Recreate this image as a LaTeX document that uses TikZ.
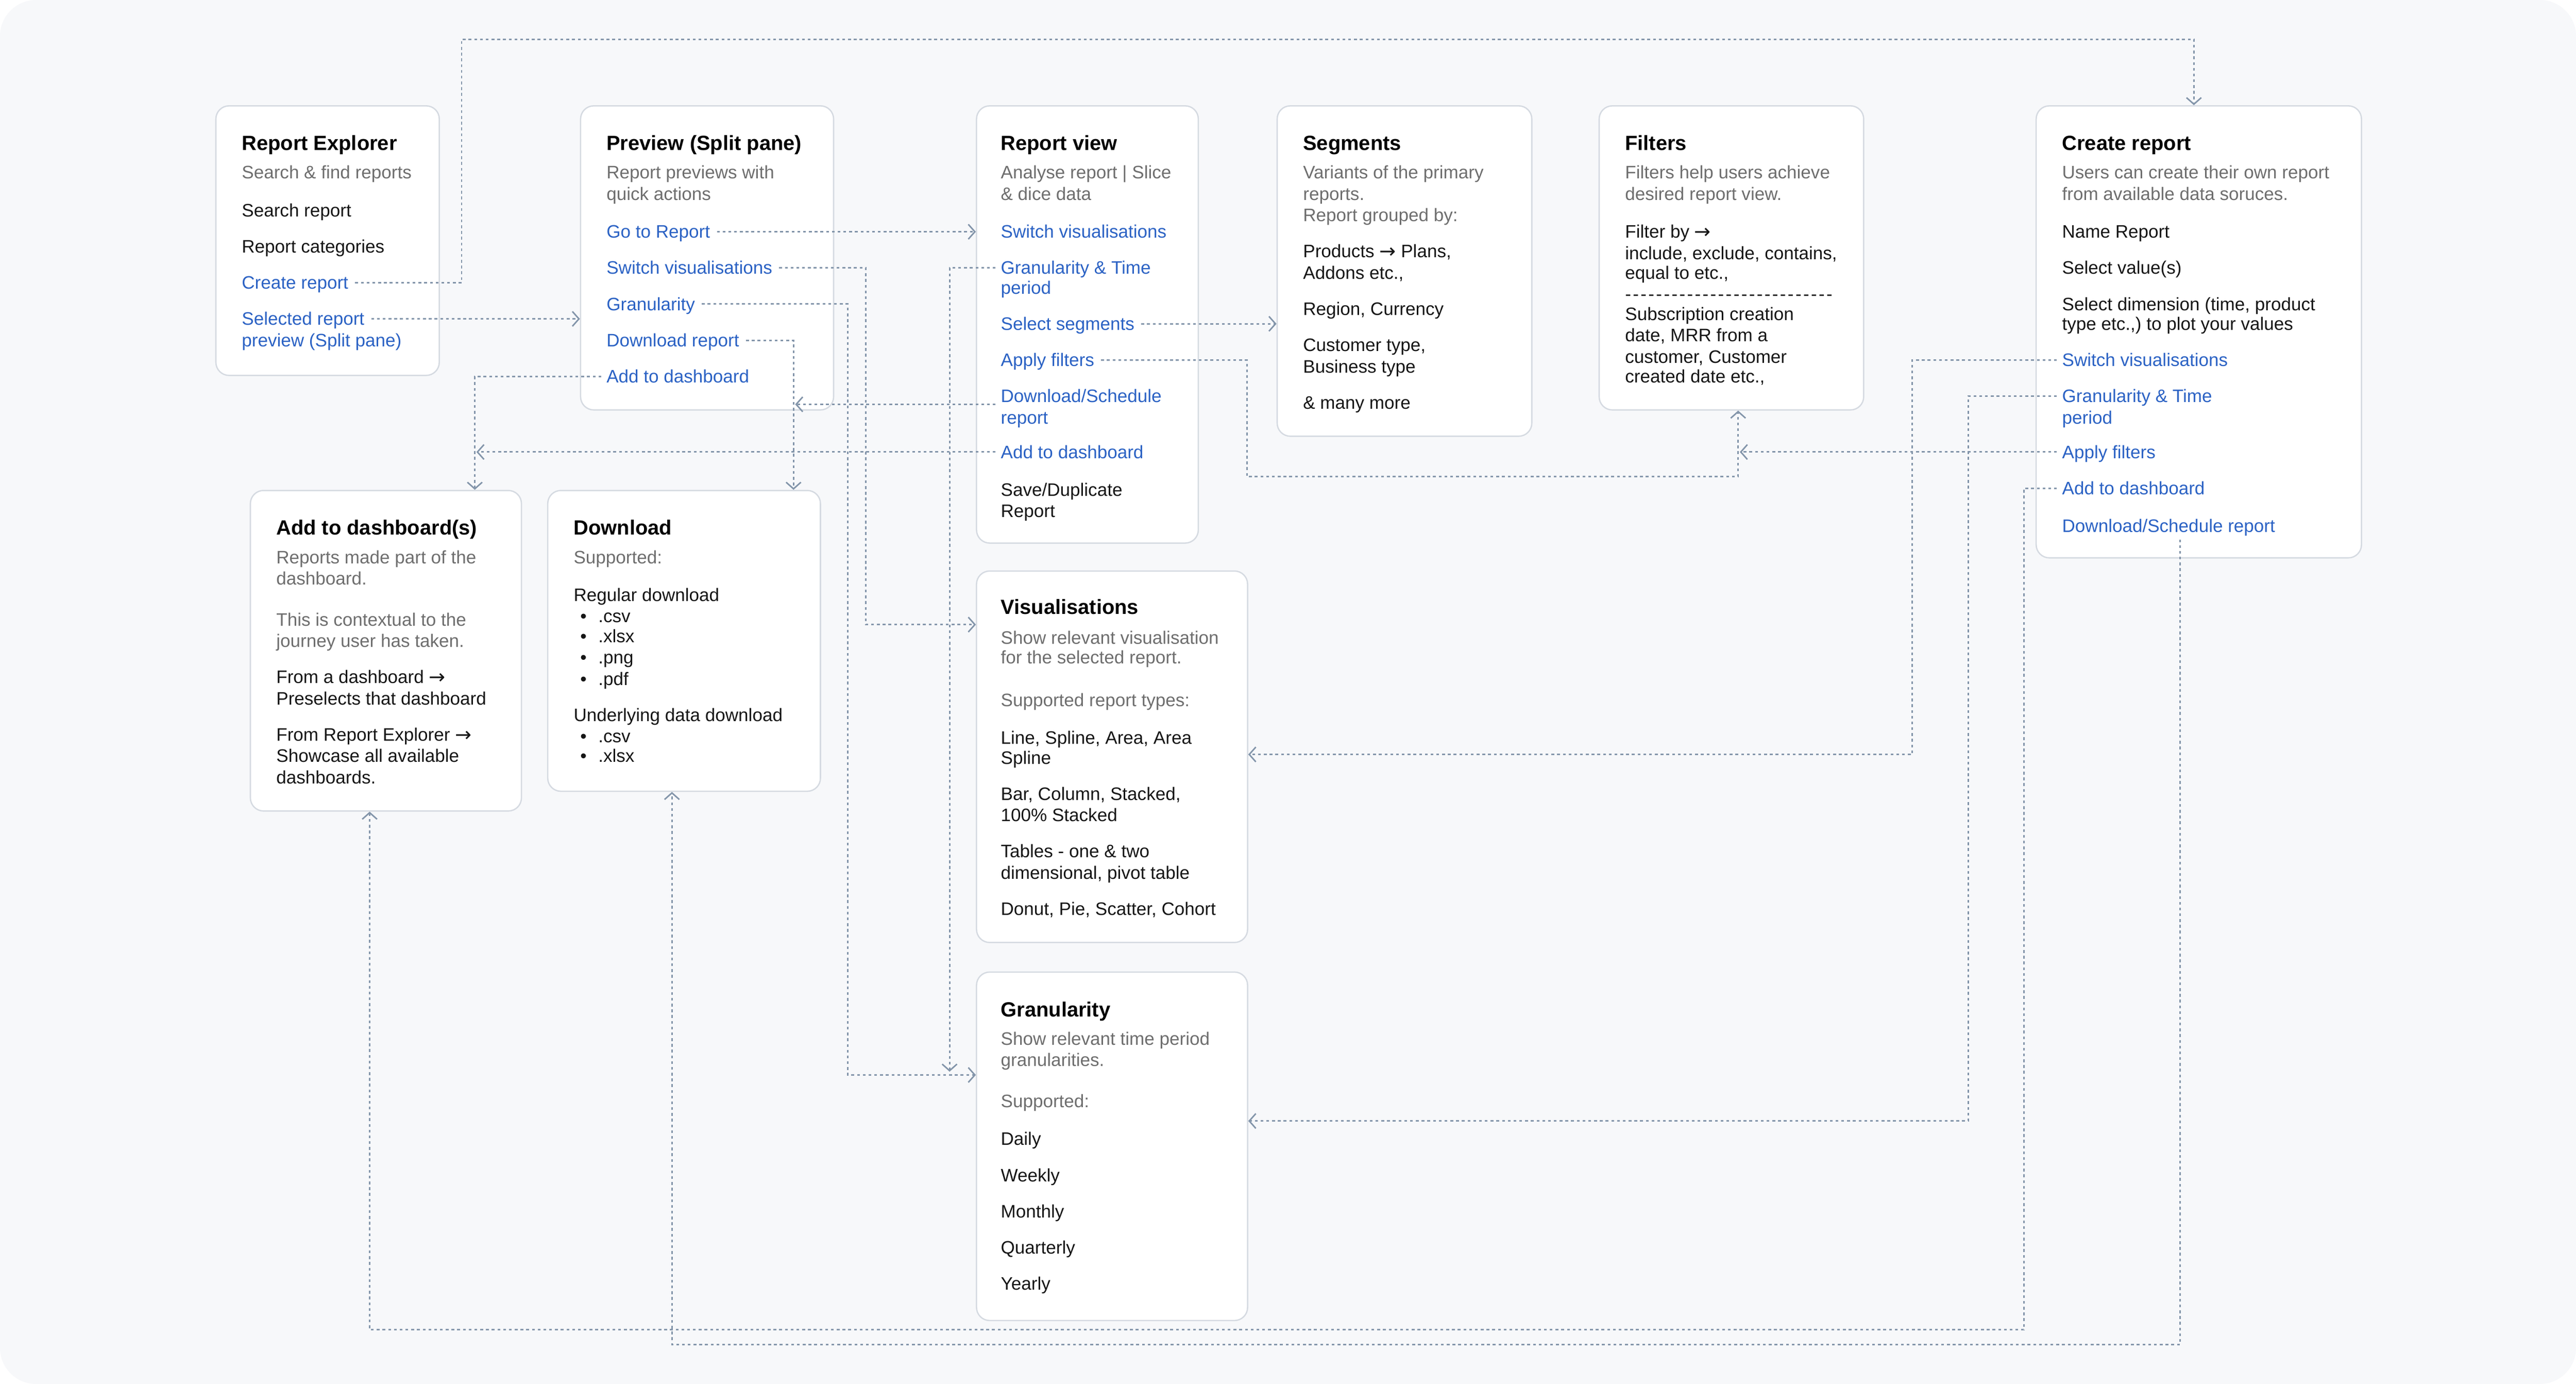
\documentclass[tikz,border=0pt]{standalone}
\usepackage{fontspec}
\setmainfont{Liberation Sans}
\newfontfamily\arrowfont{DejaVu Sans}
\newcommand\toarrow{{\arrowfont\fontsize{12}{12}\selectfont\raisebox{-0.3pt}{→}}}
\usetikzlibrary{arrows.meta}

\definecolor{bgc}{HTML}{F7F8FA}
\definecolor{cardline}{HTML}{D5DAE1}
\definecolor{linkc}{HTML}{8395AA}
\definecolor{actblue}{HTML}{2B62C4}
\definecolor{subgray}{HTML}{6E6E6E}
\definecolor{ink}{HTML}{161616}

\begin{document}
\begin{tikzpicture}[x=1pt,y=-1pt,
    card/.style={draw=cardline, fill=white, rounded corners=8pt, line width=0.8pt, anchor=north west, inner sep=0pt},
    ttl/.style={font=\fontsize{12.5}{15}\selectfont\bfseries, anchor=west, inner sep=0pt, text height=9.5pt, text depth=0.5pt},
    sub/.style={font=\fontsize{11}{13}\selectfont, text=subgray, anchor=west, inner sep=0pt, text height=8.8pt, text depth=1.2pt},
    txt/.style={sub, text=ink},
    act/.style={sub, text=actblue},
    link/.style={draw=linkc, line width=0.9pt, dash pattern=on 1.7pt off 1.8pt, -{Straight Barb[length=4pt,width=9pt]}}]
    \useasboundingbox (0,0) rectangle (1568,842);
    \fill[white] (0,0) rectangle (1568,842);
    \fill[bgc, rounded corners=22pt] (0,0) rectangle (1568,842);

    % cards
    \node[card, minimum width=136pt, minimum height=164pt] (explorer) at (131,64) {};
    \node[card, minimum width=154pt, minimum height=185pt] (preview) at (353,64) {};
    \node[card, minimum width=135pt, minimum height=266pt] (reportview) at (594,64) {};
    \node[card, minimum width=155pt, minimum height=201pt] (segments) at (777,64) {};
    \node[card, minimum width=161pt, minimum height=185pt] (filters) at (973,64) {};
    \node[card, minimum width=198pt, minimum height=275pt] (create) at (1239,64) {};
    \node[card, minimum width=165pt, minimum height=195pt] (dashbox) at (152,298) {};
    \node[card, minimum width=166pt, minimum height=183pt] (download) at (333,298) {};
    \node[card, minimum width=165pt, minimum height=226pt] (visual) at (594,347) {};
    \node[card, minimum width=165pt, minimum height=212pt] (gran) at (594,591) {};

    % Report Explorer
    \node[ttl] (explorerT) at (147,87) {Report Explorer};
    \node[sub] (explorerS) at (147,105) {Search \& find reports};
    \node[txt] (exSearch) at (147,128) {Search report};
    \node[txt] (exCat) at (147,150) {Report categories};
    \node[act] (exCreate) at (147,172) {Create report};
    \node[act] (exSelected) at (147,194) {Selected report};
    \node[act] (exSelected2) at (147,207) {preview (Split pane)};

    % Preview
    \node[ttl] (previewT) at (369,87) {Preview (Split pane)};
    \node[sub] (previewS1) at (369,105) {Report previews with};
    \node[sub] (previewS2) at (369,118) {quick actions};
    \node[act] (prGoto) at (369,141) {Go to Report};
    \node[act] (prSwitch) at (369,163) {Switch visualisations};
    \node[act] (prGran) at (369,185) {Granularity};
    \node[act] (prDownload) at (369,207) {Download report};
    \node[act] (prAdd) at (369,229) {Add to dashboard};

    % Report view
    \node[ttl] (reportviewT) at (609,87) {Report view};
    \node[sub] (reportviewS1) at (609,105) {Analyse report | Slice};
    \node[sub] (reportviewS2) at (609,118) {\& dice data};
    \node[act] (rvSwitch) at (609,141) {Switch visualisations};
    \node[act] (rvGran) at (609,163) {Granularity \& Time};
    \node[act] (rvGran2) at (609,175) {period};
    \node[act] (rvSegments) at (609,197) {Select segments};
    \node[act] (rvFilters) at (609,219) {Apply filters};
    \node[act] (rvDownload) at (609,241) {Download/Schedule};
    \node[act] (rvDownload2) at (609,254) {report};
    \node[act] (rvAdd) at (609,275) {Add to dashboard};
    \node[txt] (rvSave) at (609,298) {Save/Duplicate};
    \node[txt] (rvSave2) at (609,311) {Report};

    % Segments
    \node[ttl] (segmentsT) at (793,87) {Segments};
    \node[sub] (segmentsS1) at (793,105) {Variants of the primary};
    \node[sub] (segmentsS2) at (793,118) {reports.};
    \node[sub] (segmentsS3) at (793,131) {Report grouped by:};
    \node[txt] (sgProducts) at (793,153) {Products \toarrow{} Plans,};
    \node[txt] (sgProducts2) at (793,166) {Addons etc.,};
    \node[txt] (sgRegion) at (793,188) {Region, Currency};
    \node[txt] (sgCustomer) at (793,210) {Customer type,};
    \node[txt] (sgCustomer2) at (793,223) {Business type};
    \node[txt] (sgMore) at (793,245) {\& many more};

    % Filters
    \node[ttl] (filtersT) at (989,87) {Filters};
    \node[sub] (filtersS1) at (989,105) {Filters help users achieve};
    \node[sub] (filtersS2) at (989,118) {desired report view.};
    \node[txt] (flBy) at (989,141) {Filter by \toarrow};
    \node[txt] (flBy2) at (989,154) {include, exclude, contains,};
    \node[txt] (flBy3) at (989,166) {equal to etc.,};
    \node[txt] (flRule) at (989,179) {\foreach \i in {1,...,27}{-\kern1.05pt}};
    \node[txt] (flSub) at (989,191) {Subscription creation};
    \node[txt] (flSub2) at (989,204) {date, MRR from a};
    \node[txt] (flSub3) at (989,217) {customer, Customer};
    \node[txt] (flSub4) at (989,229) {created date etc.,};

    % Create report
    \node[ttl] (createT) at (1255,87) {Create report};
    \node[sub] (createS1) at (1255,105) {Users can create their own report};
    \node[sub] (createS2) at (1255,118) {from available data soruces.};
    \node[txt] (crName) at (1255,141) {Name Report};
    \node[txt] (crValues) at (1255,163) {Select value(s)};
    \node[txt] (crDim) at (1255,185) {Select dimension (time, product};
    \node[txt] (crDim2) at (1255,197) {type etc.,) to plot your values};
    \node[act] (crSwitch) at (1255,219) {Switch visualisations};
    \node[act] (crGran) at (1255,241) {Granularity \& Time};
    \node[act] (crGran2) at (1255,254) {period};
    \node[act] (crFilters) at (1255,275) {Apply filters};
    \node[act] (crAdd) at (1255,297) {Add to dashboard};
    \node[act] (crDownload) at (1255,320) {Download/Schedule report};

    % Add to dashboard(s)
    \node[ttl] (dashboxT) at (168,321) {Add to dashboard(s)};
    \node[sub] (dashboxS1) at (168,339) {Reports made part of the};
    \node[sub] (dashboxS2) at (168,352) {dashboard.};
    \node[sub] (dashboxS3) at (168,377) {This is contextual to the};
    \node[sub] (dashboxS4) at (168,390) {journey user has taken.};
    \node[txt] (dbFrom) at (168,412) {From a dashboard \toarrow};
    \node[txt] (dbFrom2) at (168,425) {Preselects that dashboard};
    \node[txt] (dbExp) at (168,447) {From Report Explorer \toarrow};
    \node[txt] (dbExp2) at (168,460) {Showcase all available};
    \node[txt] (dbExp3) at (168,473) {dashboards.};

    % Download
    \node[ttl] (downloadT) at (349,321) {Download};
    \node[sub] (downloadS) at (349,339) {Supported:};
    \node[txt] (dlRegular) at (349,362) {Regular download};
    \foreach \f/\y [count=\n] in {.csv/375,.xlsx/387,.png/400,.pdf/413,.csv/448,.xlsx/460} {
        \node[txt] (dlDot\n) at (353,\y) {•};
        \node[txt] (dlFmt\n) at (364,\y) {\f};
    }
    \node[txt] (dlUnder) at (349,435) {Underlying data download};

    % Visualisations
    \node[ttl] (visualT) at (609,369) {Visualisations};
    \node[sub] (visualS1) at (609,388) {Show relevant visualisation};
    \node[sub] (visualS2) at (609,400) {for the selected report.};
    \node[sub] (visualS3) at (609,426) {Supported report types:};
    \node[txt] (viLine) at (609,449) {Line, Spline, Area, Area};
    \node[txt] (viLine2) at (609,461) {Spline};
    \node[txt] (viBar) at (609,483) {Bar, Column, Stacked,};
    \node[txt] (viBar2) at (609,496) {100\% Stacked};
    \node[txt] (viTable) at (609,518) {Tables - one \& two};
    \node[txt] (viTable2) at (609,531) {dimensional, pivot table};
    \node[txt] (viDonut) at (609,553) {Donut, Pie, Scatter, Cohort};

    % Granularity
    \node[ttl] (granT) at (609,614) {Granularity};
    \node[sub] (granS1) at (609,632) {Show relevant time period};
    \node[sub] (granS2) at (609,645) {granularities.};
    \node[sub] (granS3) at (609,670) {Supported:};
    \node[txt] (grDaily) at (609,693) {Daily};
    \node[txt] (grWeekly) at (609,715) {Weekly};
    \node[txt] (grMonthly) at (609,737) {Monthly};
    \node[txt] (grQuarterly) at (609,759) {Quarterly};
    \node[txt] (grYearly) at (609,781) {Yearly};

    % junctions
    \coordinate (jGran) at (578,652);
    \coordinate (jDl) at (484,246);
    \coordinate (jAdd) at (290,275);
    \coordinate (jFilt) at (1059,275);

    % connectors
    \draw[link] ([xshift=4pt]exCreate.east) -| (281,24) -| ([xshift=-3pt]create.north);
    \draw[link] ([xshift=4pt]exSelected.east) -- (exSelected.east -| preview.west);
    \draw[link] ([xshift=4pt]prGoto.east) -- (prGoto.east -| reportview.west);
    \draw[link] ([xshift=4pt]prSwitch.east) -| (527,380) -- (visual.west |- 0,380);
    \draw[link] ([xshift=4pt]prGran.east) -| (516,654) -- (gran.west |- 0,654);
    \draw[link] ([xshift=4pt]prDownload.east) -| (483,0 |- download.north);
    \draw[link] ([xshift=-3pt]prAdd.west) -| (289,0 |- dashbox.north);
    \draw[link] ([xshift=-3pt]rvGran.west) -| (jGran);
    \draw[link] ([xshift=4pt]rvSegments.east) -- (rvSegments.east -| segments.west);
    \draw[link] ([xshift=4pt]rvFilters.east) -| (759,290) -| (1058,0 |- filters.south);
    \draw[link] ([xshift=-3pt,yshift=-5pt]rvDownload.west) -- (jDl);
    \draw[link] ([xshift=-3pt]rvAdd.west) -- (jAdd);
    \draw[link] ([xshift=-3pt]crSwitch.west) -| (1164,459) -- (visual.east |- 0,459);
    \draw[link] ([xshift=-3pt]crGran.west) -| (1198,682) -- (gran.east |- 0,682);
    \draw[link] ([xshift=-3pt]crFilters.west) -- (jFilt);
    \draw[link] ([xshift=-3pt]crAdd.west) -| (1232,809) -| (225,0 |- dashbox.south);
    \draw[link] ([xshift=7pt,yshift=-3pt]crDownload.south) |- (409,818) -- (409,0 |- download.south);
\end{tikzpicture}
\end{document}
